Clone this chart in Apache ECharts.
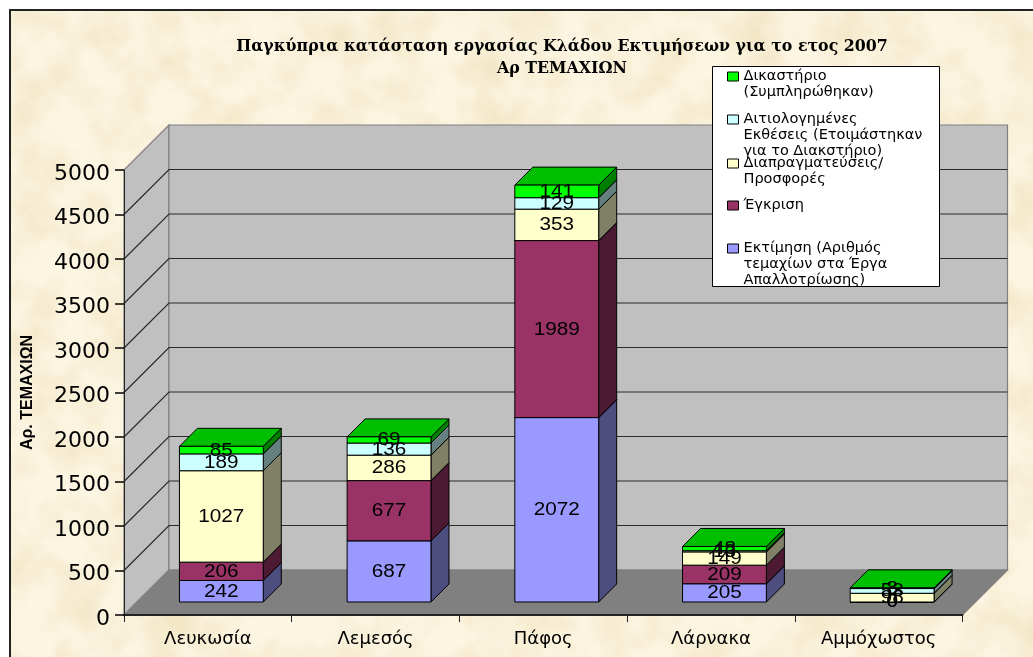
<!DOCTYPE html>
<html><head><meta charset="utf-8">
<style>
html,body{margin:0;padding:0;background:#fff;width:1033px;height:657px;overflow:hidden}
#paper{position:absolute;left:9px;top:9px;width:1024px;height:648px;box-sizing:border-box;border-left:2px solid #222;border-top:2px solid #222;background:#FCF5E2;overflow:hidden}
#paper svg{position:absolute;left:0;top:0;width:100%;height:100%}
#c{position:absolute;left:0;top:0;width:1033px;height:657px}
</style>
<script src="https://cdn.jsdelivr.net/npm/echarts@6/dist/echarts.min.js"></script>
</head><body>
<div id="paper"><svg xmlns="http://www.w3.org/2000/svg"><filter id="n" x="0" y="0" width="100%" height="100%"><feTurbulence type="fractalNoise" baseFrequency="0.022" numOctaves="4" seed="7"/><feColorMatrix values="0 0 0 0 .85  0 0 0 0 .74  0 0 0 0 .48  1.3 0 0 0 -.48"/></filter><rect width="100%" height="100%" filter="url(#n)"/></svg></div>
<div id="c"></div>
<script>
const categories = ['Λευκωσία','Λεμεσός','Πάφος','Λάρνακα','Αμμόχωστος'];
const yTicks = [0,500,1000,1500,2000,2500,3000,3500,4000,4500,5000];
const assessment  = [242,687,2072,205,0];
const approval    = [206,677,1989,209,0];
const negotiation = [1027,286,353,149,98];
const reports     = [189,136,129,13,53];
const court       = [85,69,141,48,8];
const seriesNames = [
  'Εκτίμηση (Αριθμός τεμαχίων στα Έργα Απαλλοτρίωσης)',
  'Έγκριση',
  'Διαπραγματεύσεις/ Προσφορές',
  'Αιτιολογημένες Εκθέσεις (Ετοιμάστηκαν για το Διακστήριο)',
  'Δικαστήριο (Συμπληρώθηκαν)'
];
const legendLines = [
  ['Εκτίμηση (Αριθμός','τεμαχίων στα Έργα','Απαλλοτρίωσης)'],
  ['Έγκριση'],
  ['Διαπραγματεύσεις/','Προσφορές'],
  ['Αιτιολογημένες','Εκθέσεις (Ετοιμάστηκαν','για το Διακστήριο)'],
  ['Δικαστήριο','(Συμπληρώθηκαν)']
];
const legendCenters = [248,205,163,119,76];
const values = [assessment,approval,negotiation,reports,court];
const frontColors = ['#9999FF','#993366','#FFFFCC','#CCFFFF','#00FF00'];
const sideColors  = ['#4D4D80','#4D1A33','#808066','#668080','#008000'];
const topColors   = ['#7373BF','#73264D','#BFBF99','#99BFBF','#00BF00'];

const SANS = '"DejaVu Sans",sans-serif';
const WALL = 45;            // depth of the chart box
const BAR_IN_X = 13.5, BAR_IN_Y = 13, BAR_DX = 18, BAR_DY = 18; // bar placement in that depth
const LH = 15.7;

function bases(k,i){ let s=0; for(let j=0;j<k;j++) s+=values[j][i]; return s; }

function barSeries(k){
  return {
    name: seriesNames[k], type:'custom', coordinateSystem:'cartesian2d', z:2, clip:false,
    itemStyle:{color:frontColors[k],borderColor:'#000',borderWidth:1},
    encode:{x:0,y:1},
    data: categories.map((c,i)=>[i,values[k][i],bases(k,i)]),
    renderItem(params,api){
      const i=api.value(0), v=api.value(1), b=api.value(2);
      const band=api.size([1,0])[0], w=band/2;
      const p0=api.coord([i,b]), p1=api.coord([i,b+v]);
      const xl=p0[0]-w/2+BAR_IN_X, xr=xl+w, yb=p0[1]-BAR_IN_Y, yt=p1[1]-BAR_IN_Y;
      const st={stroke:'#000',lineWidth:1};
      return {type:'group',children:[
        {type:'polygon',shape:{points:[[xr,yb],[xr+BAR_DX,yb-BAR_DY],[xr+BAR_DX,yt-BAR_DY],[xr,yt]]},style:{fill:sideColors[k],...st}},
        {type:'polygon',shape:{points:[[xl,yt],[xr,yt],[xr+BAR_DX,yt-BAR_DY],[xl+BAR_DX,yt-BAR_DY]]},style:{fill:topColors[k],...st}},
        {type:'rect',shape:{x:xl,y:yt,width:w,height:yb-yt},style:{fill:frontColors[k],...st}},
        {type:'text',z2:10,x:(xl+xr)/2,y:(yb+yt)/2+0.5,scaleX:1.15,style:{text:String(v),x:0,y:0,align:'center',verticalAlign:'middle',fontSize:18,fontFamily:'"Liberation Sans",sans-serif',fill:'#000'}}
      ]};
    }
  };
}

const paneSeries = {
  type:'custom', coordinateSystem:'cartesian2d', z:1, silent:true, clip:false,
  encode:{x:0,y:1}, data:[[0,0]],
  renderItem(params){
    const g=params.coordSys, x0=g.x, x1=g.x+g.width, yT=g.y, yB=g.y+g.height;
    const edge={stroke:'#808080',lineWidth:1.2};
    return {type:'group',children:[
      {type:'polygon',shape:{points:[[x0,yT],[x0+WALL,yT-WALL],[x0+WALL,yB-WALL],[x0,yB]]},style:{fill:'#C0C0C0',...edge}},
      {type:'rect',shape:{x:x0+WALL,y:yT-WALL,width:g.width,height:g.height},style:{fill:'#C0C0C0',...edge}},
      {type:'polygon',shape:{points:[[x0,yB],[x1,yB],[x1+WALL,yB-WALL],[x0+WALL,yB-WALL]]},style:{fill:'#808080',...edge}}
    ]};
  }
};
const gridSeries = {
  type:'custom', coordinateSystem:'cartesian2d', z:1, silent:true, clip:false,
  encode:{x:0,y:1}, data: yTicks.slice(1,-1).map(v=>[0,v]),
  renderItem(params,api){
    const g=params.coordSys, y=api.coord([0,api.value(1)])[1];
    return {type:'polyline',shape:{points:[[g.x,y],[g.x+WALL,y-WALL],[g.x+g.width+WALL,y-WALL]]},style:{fill:'none',stroke:'#2a2a2a',lineWidth:1.2}};
  }
};

const legends = seriesNames.map((n,k)=>{
  const lines=legendLines[k], total=2*lines.length-1;
  return {
    data:[n], orient:'vertical', left:727, top:legendCenters[k]-total*LH/2+0.5, padding:0,
    itemWidth:11, itemHeight:9, itemGap:0, selectedMode:false, z:6,
    icon:'rect', itemStyle:{borderColor:'#000',borderWidth:1},
    textStyle:{fontFamily:SANS,fontSize:14.5,lineHeight:LH,color:'#000'},
    formatter(){ return '\n'.repeat(lines.length-1)+lines.join('\n'); }
  };
});

const chart = echarts.init(document.getElementById('c'),null,{renderer:'canvas'});
chart.setOption({
  animation:false,
  backgroundColor:'transparent',
  title:{text:'Παγκύπρια κατάσταση εργασίας Κλάδου Εκτιμήσεων για το ετος 2007\nΑρ ΤΕΜΑΧΙΩΝ',
    left:557,top:31,textAlign:'center',
    textStyle:{fontFamily:'"DejaVu Serif",serif',fontWeight:'bold',fontSize:15.8,lineHeight:22,color:'#000'}},
  grid:{left:124,top:170,width:838.5,height:445},
  legend:legends,
  graphic:[{type:'rect',z:5,silent:true,shape:{x:712.5,y:66.5,width:227,height:220},style:{fill:'#fff',stroke:'#000',lineWidth:1}}],
  xAxis:{type:'category',data:categories,z:4,
    axisLine:{lineStyle:{color:'#222',width:2}},
    axisTick:{show:true,alignWithLabel:false,length:7,lineStyle:{color:'#222',width:1}},
    axisLabel:{fontFamily:SANS,fontSize:18,color:'#000',margin:15}},
  yAxis:{type:'value',min:0,max:5000,interval:500,z:4,
    name:'Αρ. ΤΕΜΑΧΙΩΝ',nameLocation:'middle',nameGap:88,nameRotate:90,
    nameTextStyle:{fontFamily:'"Liberation Sans",sans-serif',fontWeight:'bold',fontSize:16,color:'#000'},
    splitLine:{show:false},
    axisLine:{show:true,lineStyle:{color:'#222',width:1}},
    axisTick:{show:true,length:9,lineStyle:{color:'#000',width:1.5}},
    axisLabel:{fontFamily:SANS,fontSize:22,color:'#000',margin:14,lineHeight:8,formatter:v=>'\n'+v}},
  series:[paneSeries,gridSeries].concat(values.map((_,k)=>barSeries(k)))
});
</script>
</body></html>
